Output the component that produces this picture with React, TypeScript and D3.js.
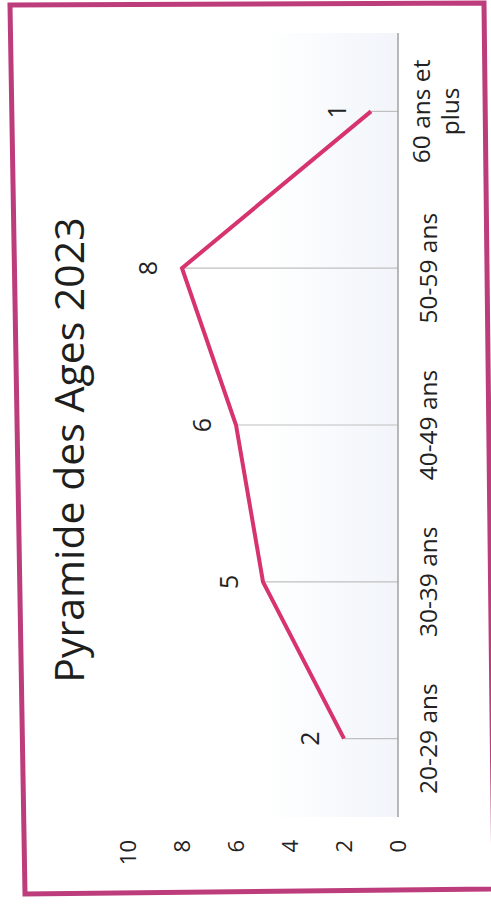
import React, { useEffect, useRef } from 'react';
import * as d3 from 'd3';

const categories = ['20-29 ans', '30-39 ans', '40-49 ans', '50-59 ans', '60 ans et plus'];
const categoryLines = [['20-29 ans'], ['30-39 ans'], ['40-49 ans'], ['50-59 ans'], ['60 ans et', 'plus']];
const counts = [2, 5, 6, 8, 1];
const valueTicks = [0, 2, 4, 6, 8, 10];
const title = 'Pyramide des Ages 2023';

const App = () => {
  const svgRef = useRef<SVGSVGElement>(null);

  useEffect(() => {
    const W = 491;
    const H = 908;
    const svg = d3.select(svgRef.current);
    svg.selectAll('*').remove();
    svg.attr('width', W).attr('height', H);

    const font = "'Open Sans', 'Noto Sans', sans-serif";

    // scanned frame, slightly skewed
    svg.append('polygon')
      .attr('points', '10,5 484,3 494,889 25,894')
      .attr('fill', '#fff')
      .attr('stroke', '#bd3c7c')
      .attr('stroke-width', 5);

    // chart is drawn landscape, then turned a quarter to the left
    const g = svg.append('g').attr('transform', `translate(0,${H}) rotate(-90)`);

    const x = d3.scaleBand().domain(categories).range([91, 875]);
    const y = d3.scaleLinear().domain([0, 10]).range([398, 128]);
    const cx = (c: string) => (x(c) as number) + x.bandwidth() / 2;

    const defs = svg.append('defs');
    const grad = defs.append('linearGradient')
      .attr('id', 'tint').attr('x1', 0).attr('y1', 0).attr('x2', 0).attr('y2', 1);
    grad.append('stop').attr('offset', '0%').attr('stop-color', '#ffffff');
    grad.append('stop').attr('offset', '50%').attr('stop-color', '#ffffff');
    grad.append('stop').attr('offset', '100%').attr('stop-color', '#f1f5fa');

    g.append('rect')
      .attr('x', 91).attr('y', y(10))
      .attr('width', 875 - 91).attr('height', y(0) - y(10))
      .attr('fill', 'url(#tint)');

    // title
    g.append('text')
      .attr('x', 458).attr('y', 84)
      .attr('text-anchor', 'middle')
      .attr('font-family', font)
      .attr('font-size', 41)
      .attr('fill', '#1e1e1e')
      .text(title);

    // drop lines
    g.append('g')
      .selectAll('line')
      .data(counts)
      .enter()
      .append('line')
      .attr('x1', (d, i) => cx(categories[i]))
      .attr('x2', (d, i) => cx(categories[i]))
      .attr('y1', d => y(d))
      .attr('y2', y(0))
      .attr('stroke', '#bfbfbf')
      .attr('stroke-width', 1.2);

    // category axis line
    g.append('line')
      .attr('x1', 91).attr('x2', 875)
      .attr('y1', y(0)).attr('y2', y(0))
      .attr('stroke', '#a0a0a0')
      .attr('stroke-width', 1.5);

    // value axis labels
    const yAxis = g.append('g')
      .attr('transform', 'translate(71,0)')
      .call(d3.axisLeft(y).tickValues(valueTicks).tickSize(0).tickPadding(3));
    yAxis.select('.domain').remove();
    yAxis.selectAll('text')
      .attr('font-family', font)
      .attr('font-size', 22)
      .attr('fill', '#222');

    // category labels
    const catG = g.append('g');
    categoryLines.forEach((lines, i) => {
      const t = catG.append('text')
        .attr('text-anchor', 'middle')
        .attr('font-family', font)
        .attr('font-size', 24.5)
        .attr('fill', '#222');
      const base = lines.length > 1 ? 430 : 437;
      lines.forEach((ln, j) => {
        t.append('tspan')
          .attr('x', cx(categories[i]))
          .attr('y', base + j * 29)
          .text(ln);
      });
    });

    // line
    const line = d3.line<number>()
      .x((d, i) => cx(categories[i]))
      .y(d => y(d));

    g.append('path')
      .datum(counts)
      .attr('d', line)
      .attr('fill', 'none')
      .attr('stroke', '#d6336f')
      .attr('stroke-width', 4)
      .attr('stroke-linejoin', 'miter');

    // data labels
    g.append('g')
      .selectAll('text')
      .data(counts)
      .enter()
      .append('text')
      .attr('x', (d, i) => cx(categories[i]))
      .attr('y', d => y(d) - 25)
      .attr('text-anchor', 'middle')
      .attr('font-family', font)
      .attr('font-size', 25)
      .attr('fill', '#222')
      .text(d => d);
  }, []);

  return (
    <svg ref={svgRef} style={{ position: 'absolute', left: 0, top: 0 }} viewBox="0 0 491 908"></svg>
  );
};

export default App;
